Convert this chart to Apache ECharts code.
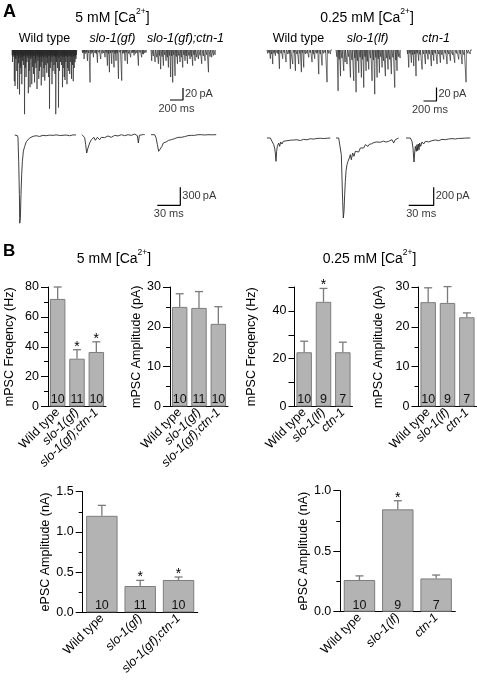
<!DOCTYPE html>
<html><head><meta charset="utf-8">
<script src="https://cdn.jsdelivr.net/npm/echarts@6/dist/echarts.min.js"></script>
<style>html,body{margin:0;padding:0;background:#fff}#c{width:477px;height:682px}</style>
</head><body><div id="c"></div>
<script>
// ================= DATA =================
// Panel A, top row: mPSC events [time ms, amplitude pA (inward, drawn downward)]
const mWT5 = [[6,20],[19,8],[35,52],[46,60],[58,15],[73,35],[86,65],[100,22],[115,74],[127,30],[138,40],[150,57],[163,18],[177,25],[192,107],[204,30],[215,45],[230,20],[250,72],[263,35],[276,62],[288,15],[303,57],[317,28],[330,40],[346,54],[357,22],[369,30],[384,65],[397,18],[411,48],[422,35],[434,28],[449,59],[461,20],[476,45],[490,30],[503,51],[518,25],[534,38],[547,22],[561,45],[576,98],[588,30],[599,20],[614,57],[630,35],[645,25],[660,40],[672,107],[684,20],[699,30],[714,96],[730,35],[745,20],[760,25],[776,62],[787,30],[803,45],[814,50],[829,20],[845,57],[856,30],[872,35],[887,40],[902,20],[914,48],[929,25],[941,52],[956,30],[968,20],[983,15]];
const mWT5small = [[3,9],[12,6],[26,11],[40,8],[51,12],[63,7],[79,10],[92,9],[105,13],[120,8],[132,11],[144,7],[156,12],[169,9],[183,10],[198,8],[209,12],[221,7],[237,10],[244,13],[257,9],[270,8],[282,11],[296,9],[309,12],[323,8],[336,10],[351,9],[363,13],[376,7],[390,10],[404,8],[417,12],[428,9],[443,11],[455,8],[467,10],[483,12],[496,7],[510,11],[526,9],[540,13],[553,8],[568,10],[581,9],[594,12],[607,8],[621,11],[637,9],[652,10],[665,12],[678,8],[692,11],[706,9],[721,13],[737,8],[752,10],[766,9],[781,12],[795,8],[808,11],[822,9],[837,10],[851,12],[864,8],[879,10],[894,11],[908,9],[921,12],[935,8],[948,10],[962,9],[975,11],[990,8]];
const mSloGF5 = [[31,15],[83,18],[123,54],[175,12],[237,21],[287,15],[354,12],[390,26],[421,37],[456,23],[492,29],[523,18],[560,48],[610,51],[662,18],[698,23],[748,12],[800,9],[867,26],[917,12],[944,7]];
const mSloGF5small = [[8,5],[22,4],[50,6],[66,4],[102,5],[140,6],[158,4],[200,5],[218,6],[262,4],[310,6],[333,5],[372,4],[405,6],[440,5],[474,4],[508,6],[540,5],[585,4],[628,6],[645,5],[680,4],[720,6],[770,5],[785,4],[822,6],[845,5],[890,4],[930,6],[965,5],[985,4]];
const mSloGFCtn5 = [[10,18],[62,20],[113,23],[148,32],[190,26],[231,18],[267,29],[302,45],[333,54],[369,43],[406,23],[446,20],[487,29],[523,18],[560,23],[600,15],[640,26],[677,18],[729,15],[779,23],[831,18],[883,37],[933,12]];
const mSloGFCtn5small = [[35,10],[88,12],[130,9],[170,11],[210,8],[250,12],[285,9],[318,10],[350,8],[388,11],[425,9],[466,12],[505,8],[541,10],[580,9],[620,11],[660,8],[703,12],[754,9],[805,10],[857,8],[908,11],[960,9],[985,8]];
const mWT025 = [[51,13],[87,21],[128,8.5],[190,28],[241,13],[292,18],[359,28],[395,21],[436,31],[487,21],[528,33],[564,26],[641,11],[692,18],[733,13],[795,36],[846,23],[923,48]];
const mWT025small = [[10,5],[30,4],[70,6],[108,5],[150,4],[170,6],[215,5],[265,4],[320,6],[340,5],[415,4],[460,6],[505,5],[545,4],[590,6],[615,5],[665,4],[712,6],[760,5],[775,4],[820,6],[870,5],[895,4],[945,5],[975,6]];
const mSloLF025 = [[31,61],[68,39],[118,31],[169,21],[221,41],[272,46],[308,63],[349,34],[390,41],[426,56],[462,31],[503,29],[554,46],[595,66],[631,41],[667,34],[708,26],[759,39],[800,29],[851,36],[903,56],[938,31]];
const mSloLF025small = [[12,10],[48,14],[90,12],[140,18],[195,10],[245,15],[290,12],[330,16],[370,11],[408,14],[445,10],[482,17],[530,12],[575,15],[612,11],[650,13],[688,10],[730,16],[780,12],[825,14],[875,11],[920,15],[960,10],[985,12]];
const mCtn025 = [[26,26],[67,19],[103,24],[138,39],[179,16],[231,29],[282,21],[323,14],[374,24],[410,16],[462,21],[513,19],[564,14],[615,21],[667,16],[733,19],[795,14],[846,21],[908,48]];
const mCtn025small = [[8,6],[45,5],[85,7],[120,6],[158,5],[200,7],[255,6],[300,5],[345,6],[392,7],[435,5],[488,6],[535,7],[590,5],[640,6],[700,7],[760,5],[820,6],[875,7],[935,5],[970,6]];

// Panel A, second row: ePSC traces [time ms, current pA]
const eWT5 = [[0,0],[3.5,-10],[4.3,-44],[5.2,-440],[6.1,-990],[6.6,-1470],[7.4,-1380],[8.2,-990],[9.1,-660],[10,-440],[11.3,-270],[13,-190],[15.2,-110],[17.3,-80],[19.5,-50],[21.7,-40],[24,-22],[26,-30],[28,-12],[30.4,-10],[32.5,-24],[34.7,-20],[37,-5],[39,0],[41,-12],[43.4,-10],[45.5,-2],[47.8,8],[50,-6],[52,-10],[54,2],[56.5,0],[58.7,-8],[60.8,-25],[63,-5],[65,10],[67,0],[69.5,-5],[71.5,-12],[73.8,-15],[76,2],[78,5],[80,0]];
const eSloGF5 = [[0,5],[2.6,5],[3.5,-44],[4.8,-161],[6.1,-300],[6.6,-317],[7.8,-217],[10,-133],[12.2,-78],[14.3,-100],[15.6,-39],[17.4,-89],[20,-39],[23,-78],[25.2,-39],[27.5,-55],[29.5,-44],[31.5,-30],[33.9,-16],[36,-35],[38.2,-39],[40.5,-20],[42.6,-6],[44.8,-25],[46.9,-16],[49,-5],[51.3,5],[53.5,-12],[55.6,-11],[58,0],[60,5],[62,-8],[64.3,-6],[66.5,2],[68.7,16],[70.8,5],[72.1,-11],[73.5,-133],[74.8,-6],[77.4,16],[80,8],[81.7,5]];
const eSloGFCtn5 = [[0,5],[4.8,5],[6.5,-44],[8.3,-161],[10,-272],[11.3,-300],[12.6,-244],[14.3,-189],[16.1,-133],[17.8,-161],[19.5,-117],[21.3,-133],[23,-89],[24.8,-100],[26.5,-78],[28.6,-89],[30.8,-61],[33,-72],[35.1,-39],[37.3,-50],[39.5,-39],[41.5,-30],[43.8,-27],[46,-18],[48.2,-11],[50.3,-15],[52.5,-6],[56.8,-6],[61.2,5],[65.5,5],[70,0],[74.2,5],[79,3],[85,5]];
const eWT025 = [[0,0],[4,0],[6,-18.5],[8,-74],[9.2,-111],[10,-167],[10.8,-259],[11.6,-148],[12.4,-93],[13.2,-111],[14,-56],[15.2,-93],[16.4,-44],[18,-67],[19.6,-37],[22,-56],[24,-30],[26,-44],[28,-25],[30,-30],[32,-22],[34,-37],[36,-20],[38,-18.5],[40,-28],[42,-30],[44,-15],[46,-11],[48,-20],[50,-18.5],[52,-8],[54,-7],[56,-12],[58,-15],[60,-5],[62,-7],[64,-3],[66,0],[68,-6],[70,-4],[73,-2],[76,0]];
const eSloLF025 = [[0,0],[3.2,0],[5.6,-18.5],[6.4,-185],[7.2,-444],[8,-704],[8.8,-889],[9.6,-815],[10.4,-630],[11.2,-481],[12,-370],[13.2,-296],[14.4,-259],[16,-222],[17.2,-185],[18.4,-241],[20,-167],[21.6,-204],[23.2,-148],[25.2,-130],[27.2,-156],[29.2,-111],[31.2,-93],[33.2,-111],[35.2,-74],[36.8,-85],[38.4,-93],[40,-70],[41.2,-56],[42.6,-65],[44,-74],[45.6,-50],[47.2,-56],[49,-44],[51.2,-37],[53,-48],[55.2,-56],[57,-35],[58.4,-30],[60,-45],[61.2,-67],[63.2,-37],[65,-30],[67.2,-18.5],[69.2,-56],[71.2,-18.5],[73,-10],[75.2,0]];
const eCtn025 = [[0,0],[5.2,0],[7.2,-37],[8.4,-111],[9.6,-267],[10.4,-167],[11.2,-93],[12.4,-148],[13.2,-74],[14,-141],[14.8,-67],[15.6,-130],[16.4,-56],[17.6,-93],[19.2,-44],[21.2,-67],[23.2,-37],[25,-48],[27.2,-44],[29,-33],[31.2,-30],[33,-37],[35.2,-22],[37,-26],[39.2,-30],[41,-20],[43.2,-15],[45,-22],[47.2,-18.5],[49,-10],[51.2,-11],[53,-15],[55.2,-7],[57,-10],[59.2,-11],[63,-5],[67.2,-4],[70,-2],[73.2,0],[77.2,0]];

// Scale bars [time ms, current pA]
const scaleTop = [200, 20];
const scaleBotL = [30, 300];
const scaleBotR = [30, 200];

// Panel B categories
const catsL = ['Wild type', 'slo-1(gf)', 'slo-1(gf);ctn-1'];
const catsR = ['Wild type', 'slo-1(lf)', 'ctn-1'];
const italicCats = ['slo-1(gf)', 'slo-1(gf);ctn-1', 'slo-1(lf)', 'ctn-1'];

// mPSC frequency (Hz), 5 mM
const freq5 = [72, 32, 36.5];
const freq5Err = [8, 6, 6.8];
const freq5N = [10, 11, 10];
const freq5Star = [0, 1, 1];
// mPSC amplitude (pA), 5 mM
const amp5 = [25, 24.75, 20.75];
const amp5Err = [3.3, 4.1, 4.3];
const amp5N = [10, 11, 10];
// mPSC frequency (Hz), 0.25 mM
const freq025 = [22.7, 43.8, 22.7];
const freq025Err = [4.6, 5.6, 4.2];
const freq025N = [10, 9, 7];
const freq025Star = [0, 1, 0];
// mPSC amplitude (pA), 0.25 mM
const amp025 = [26.2, 26, 22.4];
const amp025Err = [3.6, 4.1, 1.1];
const amp025N = [10, 9, 7];
// ePSC amplitude (nA), 5 mM
const epsc5 = [1.2, 0.327, 0.402];
const epsc5Err = [0.13, 0.07, 0.037];
const epsc5N = [10, 11, 10];
const epsc5Star = [0, 1, 1];
// ePSC amplitude (nA), 0.25 mM
const epsc025 = [0.262, 0.846, 0.275];
const epsc025Err = [0.034, 0.071, 0.028];
const epsc025N = [10, 9, 7];
const epsc025Star = [0, 1, 0];

// ================= BUILD =================
const FONT = '"Liberation Sans", Arial, Helvetica, sans-serif';
const grid = [], xAxis = [], yAxis = [], series = [];

function addPanel(g, xa, ya) {
  const i = grid.length;
  grid.push(Object.assign({ outerBoundsMode: 'none', containLabel: false }, g));
  xAxis.push(Object.assign({ gridIndex: i }, xa));
  yAxis.push(Object.assign({ gridIndex: i }, ya));
  return i;
}

function spikeTrace(events, tMax) {
  const ev = events.slice().sort((a, b) => a[0] - b[0]);
  const d = [[0, 0]];
  ev.forEach(([t, a]) => { d.push([t, 0], [t + 1, -a], [t + 6, 0]); });
  d.push([tMax, 0]);
  return d;
}

function tracePanel(left, baseY, tMax, yMax, yMin, pxMs, pxPA, data, width, color) {
  const i = addPanel(
    { left: left, top: baseY - yMax * pxPA, width: tMax * pxMs, height: (yMax - yMin) * pxPA },
    { type: 'value', min: 0, max: tMax, show: false },
    { type: 'value', min: yMin, max: yMax, show: false });
  series.push({ type: 'line', xAxisIndex: i, yAxisIndex: i, data: data, symbol: 'none', showSymbol: false,
    lineStyle: { color: color, width: width }, silent: true, animation: false, clip: false });
}

function scaleBar(x0, yBase, sc, pxMs, pxPA) {
  const tLen = sc[0], aLen = sc[1];
  const i = addPanel(
    { left: x0, top: yBase - aLen * pxPA, width: tLen * pxMs, height: aLen * pxPA },
    { type: 'value', min: 0, max: tLen, show: false },
    { type: 'value', min: 0, max: aLen, show: false });
  series.push({ type: 'line', xAxisIndex: i, yAxisIndex: i, data: [[0, 0], [tLen, 0], [tLen, aLen]],
    symbol: 'none', lineStyle: { color: '#000', width: 1.2 }, animation: false, clip: false });
  series.push({ type: 'scatter', xAxisIndex: i, yAxisIndex: i, symbolSize: 0.01, animation: false, clip: false,
    label: { fontSize: 11, color: '#000', fontFamily: FONT },
    data: [
      { value: [tLen, aLen / 2], label: { show: true, position: 'right', distance: 2, formatter: aLen + '\u2009pA' } },
      { value: [tLen / 2, 0], label: { show: true, position: 'bottom', distance: 3, formatter: tLen + ' ms' } }
    ] });
}

function barPanel(o) {
  const tickLen = o.tickLen || 7;
  const i = addPanel(
    { left: o.left, top: o.top, width: o.width, height: o.height },
    { type: 'category', data: o.cats, boundaryGap: true,
      axisLine: { show: true, lineStyle: { color: '#000', width: 1 } }, axisTick: { show: false },
      axisLabel: { rotate: 45, margin: 4, interval: 0,
        formatter: v => italicCats.includes(v) ? '{i|' + v + '}' : '{n|' + v + '}',
        rich: { n: { fontSize: 12.5, color: '#000', fontFamily: FONT },
                i: { fontSize: 12.5, color: '#000', fontStyle: 'italic', fontFamily: FONT } } } },
    { type: 'value', min: 0, max: o.max, interval: o.interval,
      name: o.name, nameLocation: 'middle', nameRotate: 90, nameGap: o.nameGap,
      nameTextStyle: { fontSize: 12.5, color: '#000', fontFamily: FONT },
      axisLine: { show: true, lineStyle: { color: '#000', width: 1 } },
      axisTick: { show: true, length: tickLen, lineStyle: { color: '#000' } },
      minorTick: { show: !!o.minor, splitNumber: 2, length: 4, lineStyle: { color: '#000' } },
      splitLine: { show: false }, minorSplitLine: { show: false },
      axisLabel: { fontSize: 12.5, color: '#000', margin: tickLen + 2, fontFamily: FONT, formatter: o.fmt } });
  series.push({ type: 'bar', xAxisIndex: i, yAxisIndex: i, data: o.values, barWidth: o.barWidth,
    itemStyle: { color: '#b3b3b3', borderColor: '#7d7d7d', borderWidth: 1 },
    label: { show: true, position: 'insideBottom', distance: 0, fontSize: 12.5, color: '#111', fontFamily: FONT,
      formatter: p => String(o.n[p.dataIndex]) },
    animation: false });
  series.push({ type: 'custom', xAxisIndex: i, yAxisIndex: i, animation: false, z: 5,
    data: o.values.map((v, k) => [k, v, o.err[k], o.star ? o.star[k] : 0]),
    renderItem: (params, api) => {
      const k = api.value(0), v = api.value(1), e = api.value(2), s = api.value(3);
      const p0 = api.coord([k, v]), p1 = api.coord([k, v + e]);
      const cw = 4;
      const st = { stroke: '#7a7a7a', lineWidth: 1.3 };
      const ch = [
        { type: 'line', shape: { x1: p0[0], y1: p0[1], x2: p1[0], y2: p1[1] }, style: st },
        { type: 'line', shape: { x1: p1[0] - cw, y1: p1[1], x2: p1[0] + cw, y2: p1[1] }, style: st }
      ];
      if (s) ch.push({ type: 'text', x: p1[0], y: p1[1] - 3,
        style: { text: '*', fill: '#000', fontSize: 14, fontFamily: FONT, align: 'center', verticalAlign: 'middle' } });
      return { type: 'group', children: ch };
    } });
}

// ---- Panel A traces ----
const pxMsTop = 0.065, pxPATopL = 0.6, pxPATopR = 0.67;
const SPK = '#262626', SPW = 0.65;
tracePanel(12, 50, 1000, 6, -110, pxMsTop, pxPATopL, spikeTrace(mWT5.concat(mWT5small), 1000), SPW, SPK);
tracePanel(82, 50, 1000, 6, -110, pxMsTop, pxPATopL, spikeTrace(mSloGF5.concat(mSloGF5small), 1000), SPW, SPK);
tracePanel(151, 50, 1000, 6, -110, pxMsTop, pxPATopL, spikeTrace(mSloGFCtn5.concat(mSloGFCtn5small), 1000), SPW, SPK);
tracePanel(267, 50, 1000, 5, -70, pxMsTop, pxPATopR, spikeTrace(mWT025.concat(mWT025small), 1000), SPW, SPK);
tracePanel(336, 50, 1000, 5, -70, pxMsTop, pxPATopR, spikeTrace(mSloLF025.concat(mSloLF025small), 1000), SPW, SPK);
tracePanel(407, 50, 1000, 5, -70, pxMsTop, pxPATopR, spikeTrace(mCtn025.concat(mCtn025small), 1000), SPW, SPK);

const pxMsBotL = 0.767, pxPABotL = 0.06, pxMsBotR = 0.833, pxPABotR = 0.09;
const EPC = '#2a2a2a', EPW = 0.9;
tracePanel(14.7, 135, 80, 50, -1500, pxMsBotL, pxPABotL, eWT5, EPW, EPC);
tracePanel(82, 135, 81.7, 50, -1500, pxMsBotL, pxPABotL, eSloGF5, EPW, EPC);
tracePanel(151, 135, 85, 50, -1500, pxMsBotL, pxPABotL, eSloGFCtn5, EPW, EPC);
tracePanel(267, 138, 76, 30, -920, pxMsBotR, pxPABotR, eWT025, EPW, EPC);
tracePanel(336, 138, 75.2, 30, -920, pxMsBotR, pxPABotR, eSloLF025, EPW, EPC);
tracePanel(406, 138, 77.2, 30, -920, pxMsBotR, pxPABotR, eCtn025, EPW, EPC);

scaleBar(170, 100, scaleTop, pxMsTop, pxPATopL);
scaleBar(423.5, 101, scaleTop, pxMsTop, pxPATopR);
scaleBar(157.3, 205.3, scaleBotL, pxMsBotL, pxPABotL);
scaleBar(408.7, 205.3, scaleBotR, pxMsBotR, pxPABotR);

// ---- Panel B bars ----
barPanel({ left: 48, top: 287, width: 58, height: 119.5, cats: catsL, values: freq5, err: freq5Err, n: freq5N, star: freq5Star,
  max: 80, interval: 20, minor: true, name: 'mPSC Freqency (Hz)', nameGap: 32, barWidth: '80%' });
barPanel({ left: 170, top: 287, width: 58, height: 119.5, cats: catsL, values: amp5, err: amp5Err, n: amp5N,
  max: 30, interval: 10, minor: true, name: 'mPSC Amplitude (pA)', nameGap: 27, barWidth: '80%' });
barPanel({ left: 294.5, top: 287, width: 58, height: 119.5, cats: catsR, values: freq025, err: freq025Err, n: freq025N, star: freq025Star,
  max: 50, interval: 10, minor: false, tickLen: 6, fmt: v => (v % 20 === 0 ? String(v) : ''), name: 'mPSC Freqency (Hz)', nameGap: 36, barWidth: '80%' });
barPanel({ left: 418.5, top: 287, width: 58, height: 119.5, cats: catsR, values: amp025, err: amp025Err, n: amp025N,
  max: 30, interval: 10, minor: true, name: 'mPSC Amplitude (pA)', nameGap: 33, barWidth: '80%' });
barPanel({ left: 82.7, top: 491.7, width: 115, height: 120.6, cats: catsL, values: epsc5, err: epsc5Err, n: epsc5N, star: epsc5Star,
  max: 1.5, interval: 0.5, minor: true, fmt: v => v.toFixed(1), name: 'ePSC Amplitude (nA)', nameGap: 25, barWidth: '82%' });
barPanel({ left: 340.3, top: 490.7, width: 115, height: 121, cats: catsR, values: epsc025, err: epsc025Err, n: epsc025N, star: epsc025Star,
  max: 1.0, interval: 0.5, minor: true, fmt: v => v.toFixed(1), name: 'ePSC Amplitude (nA)', nameGap: 27, barWidth: '82%' });

// ---- Text annotations ----
function txt(x, y, text, extra) {
  return { type: 'text', x: x, y: y, silent: true,
    style: Object.assign({ text: text, fill: '#000', fontFamily: FONT, fontSize: 12.5, align: 'center', verticalAlign: 'middle' }, extra || {}) };
}
const caRich = {
  b: { fontSize: 14, fontFamily: FONT, fill: '#000', lineHeight: 22 },
  s: { fontSize: 8.5, fontFamily: FONT, fill: '#000', lineHeight: 10, verticalAlign: 'top' }
};
const graphic = [
  txt(3, 3, 'A', { fontSize: 18, fontWeight: 'bold', align: 'left', verticalAlign: 'top' }),
  txt(3, 243, 'B', { fontSize: 17, fontWeight: 'bold', align: 'left', verticalAlign: 'top' }),
  txt(112.5, 18, '{b|5 mM [Ca}{s|2+}{b|]}', { rich: caRich }),
  txt(367, 18, '{b|0.25 mM [Ca}{s|2+}{b|]}', { rich: caRich }),
  txt(114, 259, '{b|5 mM [Ca}{s|2+}{b|]}', { rich: caRich }),
  txt(369.5, 259, '{b|0.25 mM [Ca}{s|2+}{b|]}', { rich: caRich }),
  txt(44.5, 38.5, catsL[0]),
  txt(112.5, 38.5, catsL[1], { fontStyle: 'italic' }),
  txt(185.5, 38.5, catsL[2], { fontStyle: 'italic' }),
  txt(298.5, 38.5, catsR[0]),
  txt(367.5, 38.5, catsR[1], { fontStyle: 'italic' }),
  txt(436, 38.5, catsR[2], { fontStyle: 'italic' })
];

const chart = echarts.init(document.getElementById('c'), null, { renderer: 'canvas' });
chart.setOption({
  animation: false,
  backgroundColor: '#fff',
  textStyle: { fontFamily: FONT },
  grid: grid, xAxis: xAxis, yAxis: yAxis, series: series, graphic: graphic
});
</script>
</body></html>
